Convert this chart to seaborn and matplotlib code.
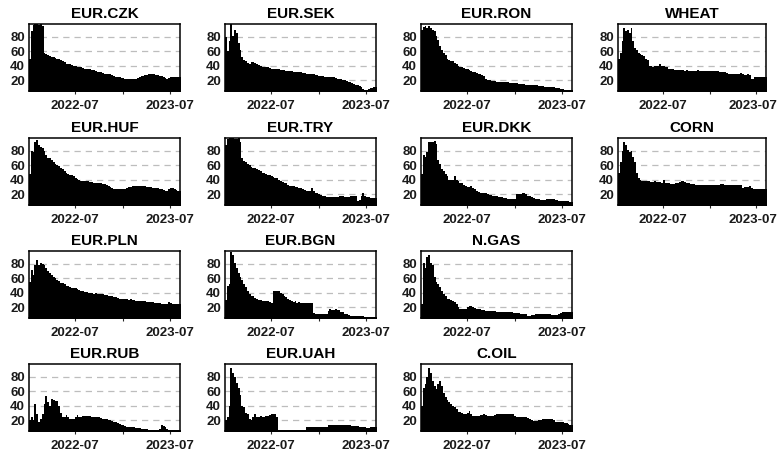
import numpy as np
import pandas as pd
import matplotlib
matplotlib.use("Agg")
import matplotlib.pyplot as plt
import matplotlib.dates as mdates
import matplotlib.transforms as mtransforms
import seaborn as sns

# ---- data (weekly search-interest index, weeks starting 2022-01-08) ----
titles = ["EUR.CZK", "EUR.SEK", "EUR.RON", "WHEAT",
          "EUR.HUF", "EUR.TRY", "EUR.DKK", "CORN",
          "EUR.PLN", "EUR.BGN", "N.GAS",
          "EUR.RUB", "EUR.UAH", "C.OIL"]

eur_czk = [50, 88, 97, 98, 100, 97, 98, 95, 58, 56,
           55, 53, 52, 52, 51, 50, 50, 48, 46, 45,
           43, 42, 42, 41, 40, 40, 39, 38, 38, 37,
           36, 36, 35, 35, 34, 34, 33, 32, 31, 31,
           30, 29, 29, 28, 28, 27, 26, 25, 25, 24,
           23, 23, 22, 22, 22, 21, 21, 21, 21, 23,
           25, 26, 26, 27, 27, 28, 28, 29, 28, 27,
           27, 26, 26, 25, 23, 22, 23, 24, 25, 25,
           25, 25, 25]
eur_sek = [80, 60, 75, 100, 82, 90, 86, 72, 62, 52,
           48, 46, 44, 43, 45, 45, 44, 42, 41, 40,
           39, 38, 39, 38, 37, 36, 36, 35, 35, 35,
           34, 34, 34, 33, 33, 33, 33, 32, 32, 32,
           31, 31, 30, 30, 29, 29, 28, 28, 28, 27, 27, 26,
           26, 26, 25, 25, 25, 24, 24, 24,
           23, 22, 22, 21, 20, 20, 19, 18, 17, 16,
           15, 14, 13, 12, 10, 8, 7, 6, 8, 9, 9, 10, 10]
eur_ron = [90, 94, 95, 93, 95, 92, 90, 88,
           82, 76, 68, 62, 58, 55, 50, 48,
           47, 46, 44, 42, 40, 39, 38, 37,
           36, 35, 34, 33, 32, 31, 30, 29,
           28, 27, 26, 21,
           20, 20, 19, 19, 19, 18, 18, 18, 17, 17, 17, 17,
           16, 16, 16, 16, 16, 15, 15, 15, 15, 14, 14, 14,
           13, 13, 13, 13, 12, 12, 12, 11, 11, 11, 10, 10,
           10, 9, 9, 9, 8, 8, 7, 7, 6.5, 6.5, 6.5]
wheat = [50, 58, 75, 93, 88, 90, 85, 92,
         75, 65, 62, 58, 56, 55, 53, 50, 48,
         40, 40, 39, 40, 40, 40, 42, 40, 40, 39, 38,
         35, 35, 35, 34, 34, 34, 34, 34, 34, 33, 34, 33,
         33, 33, 33, 33, 34, 33, 33, 33, 33, 33, 33, 33,
         33, 33, 33, 33, 32, 32, 31, 31,
         30, 29, 29, 28, 28, 28, 28, 29, 30, 28,
         27, 27, 28, 27, 22, 22, 25,
         24, 24, 24, 24, 24, 24]
eur_huf = [48, 80, 78, 92, 95, 88, 85, 84, 80, 75,
           70, 70, 68, 65, 62, 60, 59, 57, 55, 52,
           50, 48, 47, 46, 45, 43, 41, 40, 39, 39,
           38, 38, 38, 37, 37, 36, 36, 35, 35, 35,
           34, 34, 33, 32, 30, 28, 27, 27, 27, 27,
           27, 27, 27, 28, 30, 30, 31, 31, 31, 31,
           32, 32, 31, 31, 30, 30, 30, 29, 29, 28,
           28, 27, 27, 26, 25, 24, 27, 29, 28, 27,
           26, 25, 24]
eur_try = [88, 97, 98, 100, 98, 97, 96, 98, 92, 70,
           66, 64, 62, 60, 58, 57, 56, 55, 53, 52,
           50, 49, 48, 47, 46, 45, 44, 43, 42, 40,
           38, 37, 36, 35, 33, 32, 31, 31, 30, 30,
           29, 28, 27, 26, 25, 25, 24, 28, 24, 22,
           21, 20, 19, 18, 17, 16, 16, 16, 16, 16,
           16, 16, 17, 17, 17, 16, 16, 16, 17, 17,
           17, 17, 10, 12, 18, 21, 17, 16, 16, 15,
           15, 15, 15]
eur_dkk = [48, 75, 72, 78, 92, 93, 93, 94, 90, 68,
           62, 55, 52, 48, 45, 40, 40, 40, 45, 40,
           38, 36, 35, 33, 32, 30, 30, 31, 29, 27,
           24, 23, 22, 22, 21, 21, 20, 19, 19, 18,
           17, 17, 16, 16, 16, 15, 15, 14, 14, 14,
           14, 13, 20, 20, 20, 21, 21, 20, 18, 17,
           16, 15, 14, 13, 13, 12, 12, 12, 13, 13,
           14, 14, 13, 12, 12, 11, 11, 10, 10, 10,
           10, 9, 9]
corn = [50, 65, 80, 93, 88, 82, 78, 80,
        72, 65, 50, 42, 40,
        39, 39, 38, 38, 38, 37, 37, 38, 37, 37, 37,
        36, 40, 36, 35, 35, 34, 34, 34,
        35, 36, 37, 38, 38, 37, 36, 35,
        34, 34, 34, 33, 33, 33, 33, 33, 33, 33, 33, 33,
        33, 33, 33, 33, 33, 34, 34, 33, 33, 33, 33, 33,
        33, 33, 33, 33, 33, 28, 30, 30,
        30, 32, 28, 27, 27, 27, 27, 27, 27, 27, 27]
eur_pln = [55, 72, 65, 78, 85, 78, 82, 80, 78, 75,
           70, 68, 65, 62, 60, 58, 56, 54, 53, 52,
           50, 49, 48, 47, 46, 46, 45, 44, 43, 42,
           41, 41, 40, 40, 40, 39, 40, 39, 38, 38,
           38, 37, 37, 36, 36, 35, 34, 34, 33, 32,
           32, 31, 31, 31, 30, 31, 30, 30, 29, 29,
           29, 28, 28, 28, 27, 27, 27, 27, 26, 26,
           26, 26, 25, 25, 24, 25, 27, 26, 25, 25,
           25, 25, 25]
eur_bgn = [30, 50, 52, 97, 92, 82, 75, 68, 62, 58,
           52, 48, 42, 38, 36, 35, 33, 31, 30, 30,
           29, 29, 28, 28, 27, 26, 42, 43, 43, 42,
           40, 38, 36, 34, 32, 30, 28, 27, 28, 26,
           27, 26, 26, 26, 26, 26, 26, 26, 12, 11,
           11, 11, 11, 11, 11, 11, 15, 17, 16, 16,
           17, 16, 16, 14, 13, 11, 10, 9, 8, 8,
           8, 8, 8, 8, 8, 8, 7, 6.5, 6.5, 6.5,
           6.5, 6.5, 6.5]
n_gas = [25, 82, 75, 90, 93, 82, 78, 62, 55, 52,
         48, 42, 38, 35, 32, 31, 30, 29, 27, 25,
         20, 17, 17, 17, 18, 20, 21, 22, 20, 19,
         18, 18, 17, 16, 16, 15, 15, 15, 15, 15,
         15, 14, 14, 14, 14, 13, 13, 13, 13, 13,
         12, 12, 12, 12, 11, 11, 10, 10, 8, 8,
         9, 9, 10, 10, 10, 10, 10, 10, 10, 10,
         10, 9, 9, 9, 9, 10, 12, 13, 13, 13,
         13, 13, 13]
eur_rub = [20, 25, 20, 42, 28, 18, 22, 28, 42, 53,
           45, 40, 50, 48, 47, 46, 40, 30, 25, 25,
           27, 24, 22, 22, 22, 25, 27, 24, 25, 26,
           26, 26, 26, 26, 25, 25, 25, 24, 24, 23,
           22, 22, 21, 20, 20, 19, 18, 17, 16, 15,
           14, 13, 12, 11, 11, 10, 10, 10, 9, 9,
           9, 8, 8, 8, 8, 7, 7, 7, 7, 7,
           7, 8, 13, 12, 10, 8, 7, 6.5, 6.5, 6.5,
           6.5, 6.5, 6.5]
eur_uah = [20, 25, 40, 92, 85, 80, 72, 65,
           55, 40, 38, 30, 28, 22, 20, 25,
           28, 24, 25, 26, 24, 25, 26, 26, 27, 28, 28, 28, 24,
           7, 7, 7, 7, 7, 7, 7, 7, 7, 7, 7, 7, 7, 7, 7,
           10, 11, 11, 10, 11, 11, 10, 11, 11, 10, 11, 11,
           13, 14, 14, 14, 14, 14, 14, 13, 14, 14, 13, 13, 13, 12,
           12, 12, 12, 11, 11, 10, 10,
           9, 9, 10, 11, 11, 11]
c_oil = [40, 65, 70, 80, 93, 85, 75, 68, 63, 70,
         75, 68, 58, 52, 48, 45, 42, 40, 38, 35,
         32, 31, 30, 29, 28, 30, 33, 28, 26, 26,
         26, 26, 27, 27, 28, 27, 26, 26, 26, 26,
         27, 28, 28, 29, 29, 29, 29, 28, 28, 28,
         28, 26, 24, 24, 24, 24, 24, 24, 23, 22,
         20, 19, 19, 19, 20, 20, 21, 21, 22, 21,
         22, 21, 20, 18, 17, 17, 18, 17, 16, 16,
         15, 14, 13]

series = [eur_czk, eur_sek, eur_ron, wheat,
          eur_huf, eur_try, eur_dkk, corn,
          eur_pln, eur_bgn, n_gas,
          eur_rub, eur_uah, c_oil]

# grid slot (row, col) of each panel
slots = [(0, 0), (0, 1), (0, 2), (0, 3),
         (1, 0), (1, 1), (1, 2), (1, 3),
         (2, 0), (2, 1), (2, 2),
         (3, 0), (3, 1), (3, 2)]

tick_dates = ["2022-07-01", "2023-01-01", "2023-07-01"]
tick_labels = ["2022-07", "", "2023-07"]
y_ticks = [20, 40, 60, 80]

# ---- styling ----
sns.set_style("white")
plt.rcParams["font.family"] = ["Liberation Sans", "DejaVu Sans"]
plt.rcParams["font.weight"] = "bold"

W, H = 781, 455
fig = plt.figure(figsize=(W / 100, H / 100), dpi=100)

col_left = [29, 225, 421, 618]
col_width = [151, 151, 151, 148]
row_top = [24, 138, 251, 364]
ah = 67

start = pd.Timestamp("2022-01-08")
n_weeks = len(eur_czk)
edges_dt = pd.date_range(start, periods=n_weeks + 1, freq="7D")
edges = [float(e) for e in mdates.date2num(edges_dt.to_pydatetime())]
mids = [(a + b) / 2 for a, b in zip(edges[:-1], edges[1:])]
xmin = mdates.date2num(pd.Timestamp("2022-01-08").to_pydatetime())
xmax = mdates.date2num(pd.Timestamp("2023-08-08").to_pydatetime())
tick_pos = mdates.date2num(pd.to_datetime(tick_dates).to_pydatetime())

for title, vals, (r, c) in zip(titles, series, slots):
    left = col_left[c] / W
    bottom = 1 - (row_top[r] + ah) / H
    ax = fig.add_axes([left, bottom, col_width[c] / W, ah / H])
    df = pd.DataFrame({"t": mids[:len(vals)], "v": vals})
    sns.histplot(data=df, x="t", weights="v", bins=edges, element="step",
                 fill=True, color="black", alpha=1, linewidth=0, ax=ax)
    ax.set_xlim(xmin, xmax)
    ax.set_ylim(5, 98)
    ax.set_xlabel("")
    ax.set_ylabel("")
    ax.set_xticks(tick_pos)
    ax.set_xticklabels(tick_labels)
    ax.set_yticks(y_ticks)
    ax.set_yticklabels([str(v) for v in y_ticks])
    ax.tick_params(axis="x", length=2.5, width=0.8, pad=4, labelsize=9.5,
                   direction="out", bottom=True)
    ax.tick_params(axis="y", length=0, pad=3, labelsize=9.5, left=True)
    for lab in ax.get_xticklabels() + ax.get_yticklabels():
        lab.set_fontweight("bold")
        lab.set_color("#1a1a1a")
    if c == 3:
        last = ax.get_xticklabels()[-1]
        shift = mtransforms.ScaledTranslation(-3 / 100, 0, fig.dpi_scale_trans)
        last.set_transform(last.get_transform() + shift)
    ax.yaxis.grid(True, color="#bdbdbd", linestyle=(0, (5, 4)), linewidth=0.9)
    ax.xaxis.grid(False)
    ax.set_axisbelow(True)
    for sp in ax.spines.values():
        sp.set_visible(True)
        sp.set_color("black")
        sp.set_linewidth(1.1)
    ax.set_title(title, fontsize=11, fontweight="bold", pad=4, color="black")

fig.savefig("out.png", dpi=100, facecolor="white")
